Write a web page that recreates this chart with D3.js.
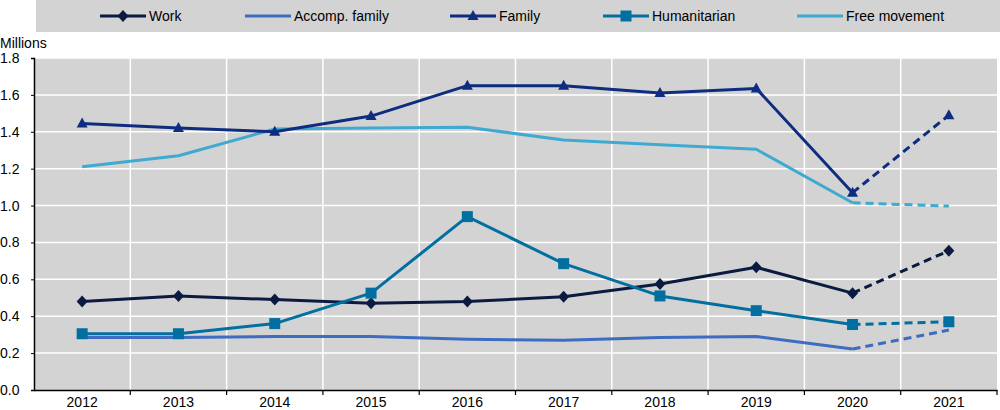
<!DOCTYPE html>
<html><head><meta charset="utf-8">
<script src="https://cdn.jsdelivr.net/npm/d3@7"></script>
<style>body{margin:0;background:#fff;font-family:"Liberation Sans",Arial,sans-serif;}</style>
</head><body><svg id="c" width="1000" height="410"></svg>
<script>
const years = ["2012","2013","2014","2015","2016","2017","2018","2019","2020","2021"];
const work = [0.48,0.51,0.49,0.47,0.48,0.505,0.575,0.665,0.525,0.755];
const accomp = [0.285,0.285,0.29,0.29,0.275,0.27,0.285,0.29,0.222,0.325];
const family = [1.445,1.42,1.40,1.485,1.65,1.65,1.61,1.635,1.07,1.49];
const humanitarian = [0.305,0.305,0.36,0.525,0.94,0.685,0.51,0.43,0.355,0.37];
const freeMove = [1.21,1.27,1.415,1.42,1.425,1.355,1.33,1.305,1.015,0.997];
const yTicks = [0,0.2,0.4,0.6,0.8,1.0,1.2,1.4,1.6,1.8];

const series = [
  {name:"Work", values:work, color:"#0b1a40", marker:"diamond"},
  {name:"Accomp. family", values:accomp, color:"#3d6cc0", marker:null},
  {name:"Family", values:family, color:"#0e2c80", marker:"triangle"},
  {name:"Humanitarian", values:humanitarian, color:"#036ea0", marker:"square"},
  {name:"Free movement", values:freeMove, color:"#3faad0", marker:null}
];
const drawOrder = [1,4,0,3,2];

const svg = d3.select("#c");
const L=34, R=997, T=58, B=390;
const x = d3.scaleBand().domain(years).range([L,R]);
const y = d3.scaleLinear().domain([0,1.8]).range([B,T]);

svg.append("rect").attr("x",L).attr("y",T).attr("width",R-L).attr("height",B-T).attr("fill","#d3d3d3");
svg.selectAll(".hg").data(yTicks.slice(1)).enter().append("line")
  .attr("x1",L).attr("x2",R).attr("y1",d=>y(d)).attr("y2",d=>y(d))
  .attr("stroke","#fff").attr("stroke-width",1.5);
svg.selectAll(".vg").data(years.slice(1)).enter().append("line")
  .attr("x1",d=>x(d)).attr("x2",d=>x(d)).attr("y1",T).attr("y2",B)
  .attr("stroke","#fff").attr("stroke-width",1.5);

const yAxis = svg.append("g").attr("transform",`translate(${L},0)`)
  .call(d3.axisLeft(y).tickValues(yTicks).tickFormat(d3.format(".1f")).tickSize(3).tickPadding(14));
yAxis.select(".domain").attr("stroke","#000").attr("stroke-width",1.5);
yAxis.selectAll("text").attr("text-anchor","start").attr("x",-34).attr("font-size",14).attr("font-family","Liberation Sans, Arial").attr("fill","#000");
const xAxis = svg.append("g").attr("transform",`translate(0,${B})`)
  .call(d3.axisBottom(x).tickSize(0).tickPadding(7));
xAxis.select(".domain").attr("stroke","#000").attr("stroke-width",1.5);
xAxis.selectAll("text").attr("font-size",14).attr("font-family","Liberation Sans, Arial").attr("fill","#000");
svg.append("g").selectAll("line").data(years.slice(1).concat(["end"])).enter().append("line")
  .attr("x1",d=>d==="end"?R:x(d)).attr("x2",d=>d==="end"?R:x(d)).attr("y1",B).attr("y2",B+5)
  .attr("stroke","#000").attr("stroke-width",1.2);

svg.append("text").attr("x",0).attr("y",48).text("Millions").attr("font-size",14).attr("fill","#000");

const cx = d => x(d)+x.bandwidth()/2;
const line = d3.line().x(d=>cx(d.year)).y(d=>y(d.v));

function markerPath(type){
  if(type==="diamond") return "M0,-6L5.5,0L0,6L-5.5,0Z";
  if(type==="triangle") return "M0,-6L5.5,4L-5.5,4Z";
  if(type==="square") return "M-5.5,-5.5H5.5V5.5H-5.5Z";
  return null;
}

drawOrder.forEach(i=>{
  const s = series[i];
  const pts = years.map((yr,j)=>({year:yr,v:s.values[j]}));
  svg.append("path").attr("d",line(pts.slice(0,9))).attr("fill","none")
    .attr("stroke",s.color).attr("stroke-width",3).attr("stroke-linejoin","round");
  svg.append("path").attr("d",line(pts.slice(8))).attr("fill","none")
    .attr("stroke",s.color).attr("stroke-width",3).attr("stroke-dasharray","8,5");
  if(s.marker){
    svg.append("g").selectAll("path").data(pts).enter().append("path")
      .attr("d",markerPath(s.marker))
      .attr("transform",d=>`translate(${cx(d.year)},${y(d.v)})`)
      .attr("fill",s.color);
  }
});

svg.append("rect").attr("x",36).attr("y",0).attr("width",964).attr("height",32).attr("fill","#d3d3d3");
const legX = [100,245,450,603,797];
series.forEach((s,i)=>{
  const g = svg.append("g").attr("transform",`translate(${legX[i]},16)`);
  g.append("line").attr("x1",0).attr("x2",46).attr("stroke",s.color).attr("stroke-width",3);
  if(s.marker) g.append("path").attr("d",markerPath(s.marker)).attr("transform","translate(23,0)").attr("fill",s.color);
  g.append("text").attr("x",49).attr("y",5).text(s.name).attr("font-size",14).attr("fill","#000");
});
</script></body></html>
